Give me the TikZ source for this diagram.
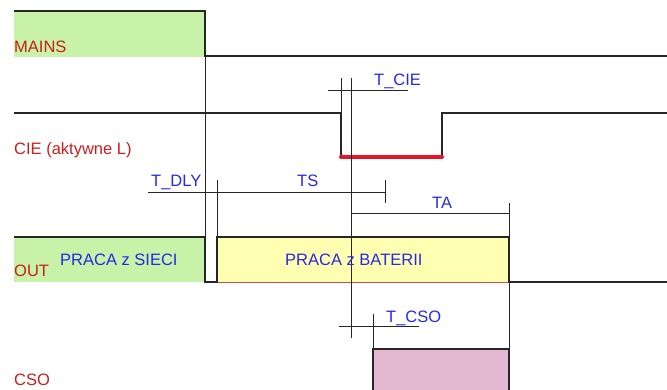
\documentclass[tikz,border=0pt]{standalone}
\usepackage{fontspec}
\setmainfont{Liberation Sans}
\definecolor{sigred}{RGB}{200,30,30}
\definecolor{lblue}{RGB}{40,40,230}
\definecolor{mgreen}{RGB}{200,242,168}
\definecolor{byellow}{RGB}{255,255,178}
\definecolor{cpink}{RGB}{228,184,208}
\definecolor{thickred}{RGB}{232,20,40}
\begin{document}
\begin{tikzpicture}[x=1pt,y=-1pt,
  sig/.style={line width=1.8pt,black!85},
  dim/.style={line width=1pt,black!85},
  redlbl/.style={text=sigred,anchor=base west,inner sep=0pt,font=\fontsize{16.5}{19}\selectfont},
  bluelbl/.style={text=lblue,anchor=base west,inner sep=0pt,font=\fontsize{16.5}{19}\selectfont}]
\useasboundingbox (0,0) rectangle (667,389);
\begin{scope}
\clip (0,0) rectangle (667,389);
% fills
\fill[mgreen] (14,11) rectangle (205,57);
\fill[mgreen] (14,237) rectangle (205,282);
\fill[byellow] (217,237) rectangle (509,282);
\fill[cpink] (373,349) rectangle (509,392);
% coordinates
\coordinate (m0) at (14,11); \coordinate (m1) at (205,11); \coordinate (m2) at (205,56); \coordinate (m3) at (670,56);
\coordinate (c0) at (14,113); \coordinate (c1) at (341,113); \coordinate (c2) at (341,157);
\coordinate (c3) at (442,157); \coordinate (c4) at (442,113); \coordinate (c5) at (670,113);
\coordinate (o0) at (14,237); \coordinate (o1) at (205,237); \coordinate (o2) at (205,282);
\coordinate (o3) at (217,282); \coordinate (o4) at (217,237); \coordinate (o5) at (509,237);
\coordinate (o6) at (509,282); \coordinate (o7) at (670,282);
\coordinate (s0) at (373,392); \coordinate (s1) at (373,349); \coordinate (s2) at (509,349); \coordinate (s3) at (509,392);
% signals
\draw[sig] (m0) -- (m1) -- (m2) -- (m3);
\draw[sig] (c0) -- (c1) -- (c2);
\draw[sig] (c3) -- (c4) -- (c5);
\draw[line width=4pt,thickred,line cap=round] (c2) -- (c3);
\draw[line width=1pt,sigred!80] (o3) -- (o6);
\draw[sig] (o0) -- (o1) -- (o2) -- (o3) -- (o4) -- (o5) -- (o6) -- (o7);
\draw[sig] (s0) -- (s1) -- (s2) -- (s3);
% dimension lines
\coordinate (v1a) at (205,11); \coordinate (v1b) at (205,282);
\draw[dim] (v1a) -- (v1b);
\coordinate (v2a) at (341,78); \draw[dim] (v2a) -- (c1);
\coordinate (v3a) at (351,78); \coordinate (v3b) at (351,338); \draw[dim] (v3a) -- (v3b);
\coordinate (tc0) at (328,90); \coordinate (tc1) at (408,90); \draw[dim] (tc0) -- (tc1);
\coordinate (ts0) at (148,192); \coordinate (ts1) at (385,192); \draw[dim] (ts0) -- (ts1);
\coordinate (ts2) at (385,180); \coordinate (ts3) at (385,203); \draw[dim] (ts2) -- (ts3);
\coordinate (v4a) at (217,180); \draw[dim] (v4a) -- (o4);
\coordinate (ta0) at (351,213); \coordinate (ta1) at (509,213); \draw[dim] (ta0) -- (ta1);
\coordinate (v5a) at (509,203); \coordinate (v5b) at (509,392); \draw[dim] (v5a) -- (v5b);
\coordinate (v6a) at (373,314); \draw[dim] (v6a) -- (s1);
\coordinate (cs0) at (339,326); \coordinate (cs1) at (419,326); \draw[dim] (cs0) -- (cs1);
% labels
\node[redlbl] (lmains) at (14,52) {MAINS};
\node[redlbl] (lcie) at (14,154) {CIE (aktywne L)};
\node[redlbl] (lout) at (14,276) {OUT};
\node[redlbl] (lcso) at (14,385) {CSO};
\node[bluelbl] (lsieci) at (60,265) {PRACA z SIECI};
\node[bluelbl] (lbat) at (285,265) {PRACA z BATERII};
\node[bluelbl] (ltcie) at (374,85) {T\_CIE};
\node[bluelbl] (ltdly) at (151,186) {T\_DLY};
\node[bluelbl] (lts) at (297,186) {TS};
\node[bluelbl] (lta) at (432,208) {TA};
\node[bluelbl] (ltcso) at (386,322) {T\_CSO};
\end{scope}
\end{tikzpicture}
\end{document}
